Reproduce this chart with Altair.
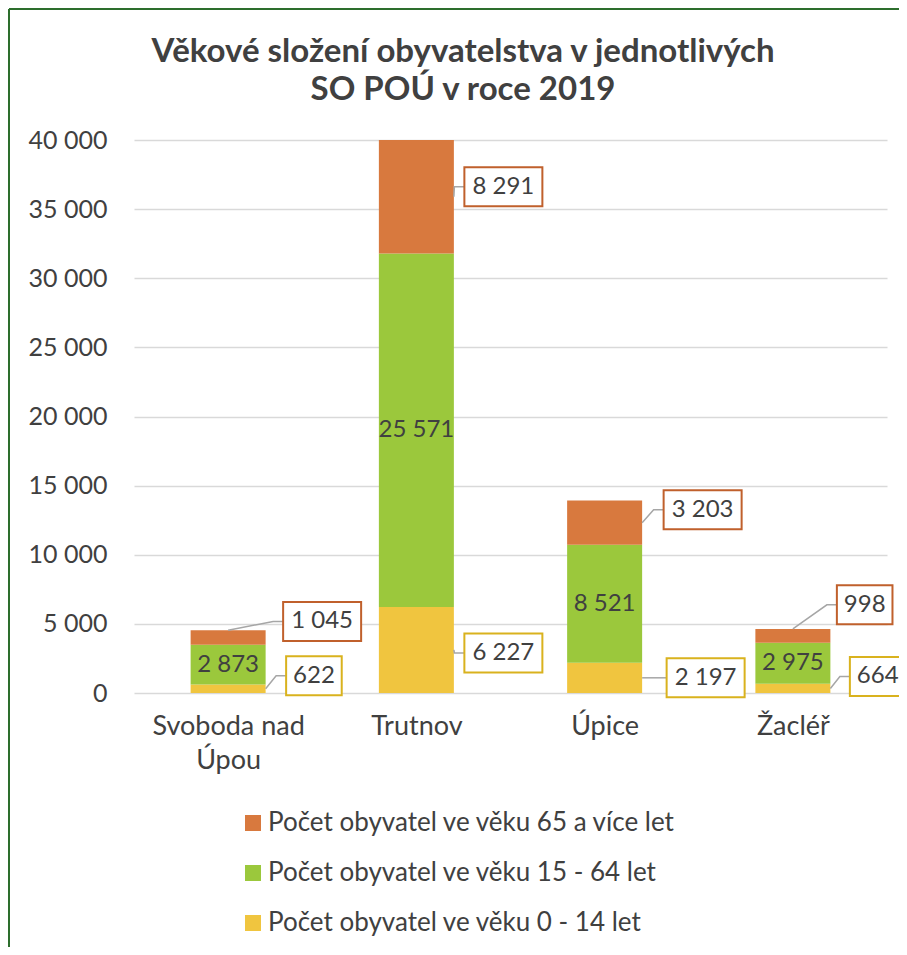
import json
import textwrap

import altair as alt
import pandas as pd

# ---------------- data ----------------
categories = ["Svoboda nad Úpou", "Trutnov", "Úpice", "Žacléř"]
series_names = [
    "Počet obyvatel ve věku 65 a více let",
    "Počet obyvatel ve věku 15 - 64 let",
    "Počet obyvatel ve věku 0 - 14 let",
]
age_0_14 = [622, 6227, 2197, 664]
age_15_64 = [2873, 25571, 8521, 2975]
age_65_plus = [1045, 8291, 3203, 998]
y_ticks = [0, 5000, 10000, 15000, 20000, 25000, 30000, 35000, 40000]
title_lines = ["Věkové složení obyvatelstva v jednotlivých", "SO POÚ v roce 2019"]

# ---------------- style / layout ----------------
FONT = "Lato"
TEXT = "#404040"
FILL = {series_names[0]: "#D8793E", series_names[1]: "#9BC83C", series_names[2]: "#F0C53F"}
BOX_STROKE = {series_names[0]: "#C0602C", series_names[2]: "#D9B21E"}
LEADER = "#A6A6A6"
BORDER = "#2D6E2D"
PLOT_W, PLOT_H = 753, 553
Y_MAX = y_ticks[-1]
BAR_PX = 75
BOX_H = 39
LABEL_FS = 24
# label box placement relative to its segment: (left edge px from bar centre, px offset of box centre from segment middle, leader anchor)
label_layout = {
    (0, 0): (55, -16, "top"), (0, 2): (58, -13, "side"),
    (1, 0): (48, -10, "side"), (1, 2): (48, 3, "side"),
    (2, 0): (59, -13, "side"), (2, 2): (62, 0, "side"),
    (3, 0): (44, -31, "top"), (3, 2): (57, -12, "side"),
}

PX_X = PLOT_W / len(categories)      # px per x unit
PX_Y = PLOT_H / Y_MAX                # px per y unit


def fmt(v):
    return f"{v:,}".replace(",", " ")


# stacked segments, bottom to top
values_by_series = {series_names[2]: age_0_14, series_names[1]: age_15_64, series_names[0]: age_65_plus}
stack_order = [series_names[2], series_names[1], series_names[0]]

bar_rows, green_rows, box_rows, leader_rows = [], [], [], []
hw = BAR_PX / 2 / PX_X
for i, cat in enumerate(categories):
    base = 0
    for s in stack_order:
        v = values_by_series[s][i]
        y0, y1 = base, base + v
        base = y1
        bar_rows.append({"cat": cat, "series": s, "x0": i - hw, "x1": i + hw, "y0": y0, "y1": y1})
        mid = (y0 + min(y1, Y_MAX)) / 2
        if s == series_names[1]:
            green_rows.append({"x": i, "y": mid, "label": fmt(v)})
            continue
        si = series_names.index(s)
        dx, dy, anchor = label_layout[(i, si)]
        txt = fmt(v)
        w = 22 + 11.2 * len(txt)
        left = i + dx / PX_X
        cy = mid - dy / PX_Y
        lid = f"{i}-{si}"
        box_rows.append({
            "lid": lid, "x0": left, "x1": left + w / PX_X, "xc": left + w / 2 / PX_X,
            "y0": cy - BOX_H / 2 / PX_Y, "y1": cy + BOX_H / 2 / PX_Y, "yc": cy,
            "label": txt, "stroke": BOX_STROKE[s],
        })
        if anchor == "top":
            start = (i, min(y1, Y_MAX))
        else:
            start = (i + hw, mid)
        pts = [start, (left - 10 / PX_X, cy), (left, cy)]
        for k, (px, py) in enumerate(pts):
            leader_rows.append({"lid": lid, "k": k, "x": px, "y": py})

bars_df = pd.DataFrame(bar_rows)
green_df = pd.DataFrame(green_rows)
box_df = pd.DataFrame(box_rows)
leader_df = pd.DataFrame(leader_rows)

xscale = alt.Scale(domain=[-0.5, len(categories) - 0.5], nice=False, zero=False)
yscale = alt.Scale(domain=[0, Y_MAX], nice=False)

x_lines = [textwrap.wrap(c, 11) for c in categories]
x_label_expr = json.dumps(x_lines, ensure_ascii=False) + "[datum.value]"

x_axis = alt.Axis(
    values=list(range(len(categories))), labelExpr=x_label_expr, grid=False, ticks=False,
    domain=False, title=None, labelFontSize=27, labelColor=TEXT, labelFont=FONT,
    labelPadding=20, labelLineHeight=34, labelFlush=False, labelOverlap=False, labelAngle=0,
)
y_axis = alt.Axis(
    values=y_ticks, labelExpr="replace(format(datum.value, ','), ',', ' ')", ticks=False,
    domain=False, title=None, labelFontSize=25, labelColor=TEXT, labelFont=FONT,
    labelPadding=27, gridColor="#D9D9D9", gridWidth=1.5,
)

bars = alt.Chart(bars_df).mark_rect(clip=True).encode(
    x=alt.X("x0:Q", scale=xscale, axis=x_axis),
    x2="x1:Q",
    y=alt.Y("y0:Q", scale=yscale, axis=y_axis),
    y2="y1:Q",
    color=alt.Color(
        "series:N",
        scale=alt.Scale(domain=series_names, range=[FILL[s] for s in series_names]),
        legend=alt.Legend(
            title=None, orient="none", legendX=106, legendY=670, padding=0,
            symbolType="square", symbolSize=256, symbolStrokeWidth=0,
            labelFontSize=26, labelColor=TEXT, labelFont=FONT, labelOffset=2,
            rowPadding=24, labelLimit=800,
        ),
    ),
)

green_text = alt.Chart(green_df).mark_text(
    fontSize=LABEL_FS, font=FONT, color=TEXT, align="center", baseline="middle"
).encode(x="x:Q", y="y:Q", text="label:N")

leaders = alt.Chart(leader_df).mark_line(color=LEADER, strokeWidth=1.5).encode(
    x="x:Q", y="y:Q", detail="lid:N", order="k:Q"
)

boxes = alt.Chart(box_df).mark_rect(fill="white", strokeWidth=2).encode(
    x="x0:Q", x2="x1:Q", y="y0:Q", y2="y1:Q",
    stroke=alt.Stroke("stroke:N", scale=None),
)

box_text = alt.Chart(box_df).mark_text(
    fontSize=LABEL_FS, font=FONT, color=TEXT, align="center", baseline="middle"
).encode(x="xc:Q", y="yc:Q", text="label:N")

frame_df = pd.DataFrame({"a": [0]})
title = alt.Chart(frame_df).mark_text(
    fontSize=33, font=FONT, fontWeight="bold", color=TEXT, align="center",
    baseline="middle", lineHeight=38,
).encode(x=alt.value(329), y=alt.value(-88), text=alt.value(title_lines))

left_border = alt.Chart(frame_df).mark_rule(color=BORDER, strokeWidth=2).encode(
    x=alt.value(-125), y=alt.value(-131), y2=alt.value(820)
)
top_border = alt.Chart(frame_df).mark_rule(color=BORDER, strokeWidth=2).encode(
    x=alt.value(-125), x2=alt.value(780), y=alt.value(-131)
)

chart = alt.layer(
    bars, green_text, leaders, boxes, box_text, title, left_border, top_border
).properties(
    width=PLOT_W,
    height=PLOT_H,
    autosize=alt.AutoSizeParams(type="none"),
    padding={"left": 126, "top": 132, "right": 12, "bottom": 254},
).configure(background="white").configure_view(stroke=None)

chart.save("out.html", embed_options={"renderer": "svg", "actions": False})
